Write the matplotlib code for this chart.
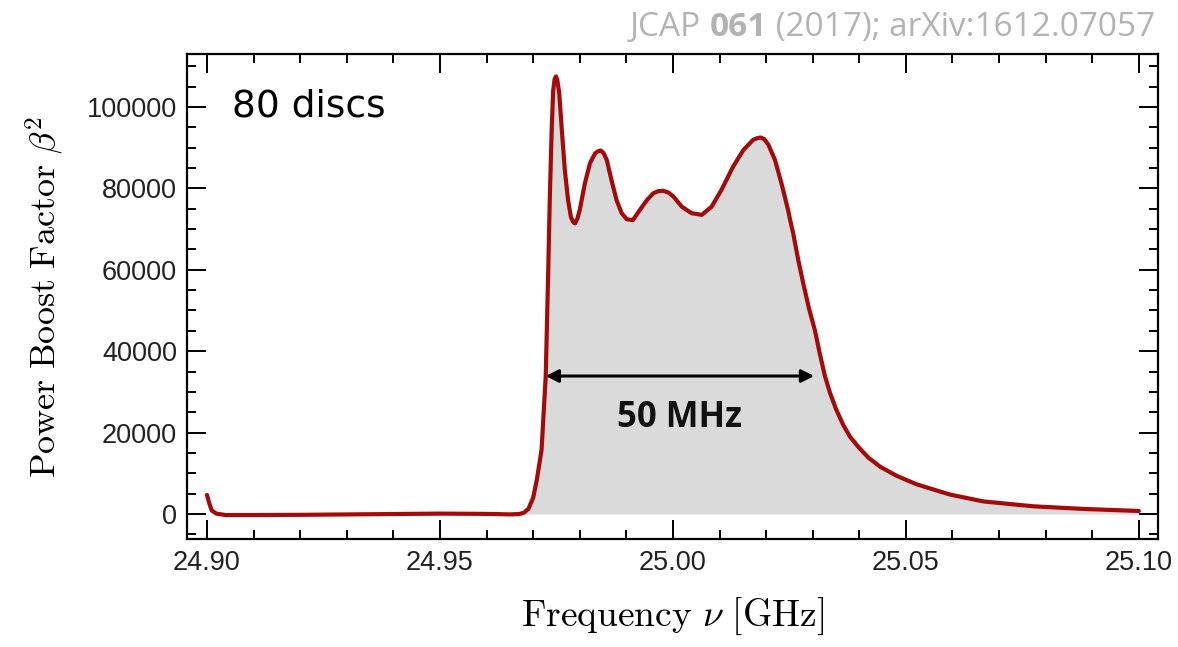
#!/usr/bin/env python3
# -*- coding: utf-8 -*-

import matplotlib as mpl

mpl.use("Agg")

import matplotlib.pyplot as plt
import numpy as np
from matplotlib.ticker import FixedLocator, FuncFormatter, MultipleLocator

# boost factor curve (GHz, beta^2)
freq_ghz = np.array([
    24.9000, 24.9005, 24.9010, 24.9020, 24.9040, 24.9100, 24.9200, 24.9300,
    24.9400, 24.9500, 24.9580, 24.9620, 24.9650, 24.9670, 24.9680, 24.9690,
    24.9700, 24.9708, 24.9718, 24.9727, 24.9732, 24.9736, 24.9740, 24.9743,
    24.9746, 24.9749, 24.9752, 24.9756, 24.9761, 24.9768, 24.9775, 24.9781,
    24.9786, 24.9790, 24.9795, 24.9800, 24.9811, 24.9822, 24.9833, 24.9839,
    24.9845, 24.9851, 24.9858, 24.9868, 24.9879, 24.9890, 24.9901, 24.9914,
    24.9929, 24.9944, 24.9958, 24.9968, 24.9979, 24.9990, 25.0001, 25.0019,
    25.0040, 25.0062, 25.0083, 25.0104, 25.0129, 25.0151, 25.0172, 25.0180,
    25.0188, 25.0196, 25.0205, 25.0219, 25.0233, 25.0240, 25.0247, 25.0252,
    25.0258, 25.0269, 25.0280, 25.0292, 25.0305, 25.0315, 25.0326, 25.0337,
    25.0350, 25.0365, 25.0380, 25.0400, 25.0420, 25.0445, 25.0480, 25.0523,
    25.0594, 25.0666, 25.0773, 25.0881, 25.1000,
])
boost = np.array([
    4700, 2600, 900, 100, -250, -250, -200, -100,
    0, 100, 50, 0, -100, 0, 300, 1300,
    4000, 8500, 15700, 33900, 58000, 78800, 95200, 104000,
    106800, 107500, 106500, 103400, 95200, 84500, 77100, 73000,
    71700, 71400, 72600, 74700, 81200, 86200, 88600, 89100,
    89300, 88700, 87000, 82100, 77100, 73900, 72400, 72200,
    74700, 77100, 78800, 79300, 79400, 79000, 78000, 75500,
    73900, 73500, 75500, 79600, 85300, 89400, 91900, 92300,
    92500, 92100, 90700, 87000, 81200, 78000, 74700, 72000,
    69000, 62400, 56500, 50500, 45000, 39500, 34000, 29800,
    25800, 22000, 19000, 16200, 13800, 11600, 9400, 7300,
    4800, 3100, 1900, 1250, 750,
], dtype=float)

band_edges = [24.9727, 25.0303]   # ends of the 50 MHz arrow
band_level = 33900
band_label = "50 MHz"
n_discs_label = "80 discs"

x_ticks = [24.90, 24.95, 25.00, 25.05, 25.10]
y_ticks = [0, 20000, 40000, 60000, 80000, 100000]

LINE_RED = "#a50a0a"
FILL_GREY = "#dadada"

plt.rcParams["mathtext.fontset"] = "cm"

fig = plt.figure(figsize=(11.78, 6.47), dpi=100)
fig.patch.set_facecolor("white")
ax = fig.add_axes([0.1587, 0.1669, 0.8243, 0.7496])

ax.fill_between(freq_ghz, 0, boost, where=freq_ghz >= 24.967, color=FILL_GREY, linewidth=0, zorder=1)
ax.plot(freq_ghz, boost, color=LINE_RED, linewidth=3.0, solid_joinstyle="round",
        solid_capstyle="round", zorder=3)

ax.annotate(
    "",
    xy=(band_edges[1], band_level),
    xytext=(band_edges[0], band_level),
    arrowprops=dict(arrowstyle="<|-|>,head_length=0.75,head_width=0.38", color="black",
                    lw=2.2, shrinkA=0, shrinkB=0, mutation_scale=10),
    zorder=4,
)
ax.text(np.mean(band_edges), 21400, band_label, ha="center", va="baseline",
        fontsize=25, fontweight="bold", family="Open Sans", color="#111111", zorder=5)
ax.text(0.046, 0.872, n_discs_label, transform=ax.transAxes, ha="left", va="baseline",
        fontsize=27, family="DejaVu Sans", color="black")

ax.set_xlim(24.8957, 25.1041)
ax.set_ylim(-6140, 113000)
ax.xaxis.set_major_locator(FixedLocator(x_ticks))
ax.xaxis.set_minor_locator(MultipleLocator(0.01))
ax.yaxis.set_major_locator(FixedLocator(y_ticks))
ax.yaxis.set_minor_locator(MultipleLocator(5000))
ax.xaxis.set_major_formatter(FuncFormatter(lambda v, _: f"{v:.2f}"))
ax.yaxis.set_major_formatter(FuncFormatter(lambda v, _: f"{v:.0f}"))

for side in ax.spines.values():
    side.set_linewidth(1.6)
    side.set_color("black")
ax.tick_params(which="both", direction="in", top=True, right=True, width=1.4, color="black")
ax.tick_params(which="major", length=14, labelsize=19.5, labelcolor="#222222")
ax.tick_params(which="minor", length=6.5)
ax.tick_params(axis="x", which="major", pad=8)
ax.tick_params(axis="y", which="major", pad=7)
for lab in ax.get_xticklabels() + ax.get_yticklabels():
    lab.set_family("Liberation Sans")

ax.set_xlabel(r"$\mathrm{Frequency}\ \nu\ [\mathrm{GHz}]$", fontsize=27, labelpad=14)
ax.set_ylabel(r"$\mathrm{Power\ Boost\ Factor}\ \beta^2$", fontsize=26, labelpad=16)

# citation in the top right corner, "061" in bold
grey = "#b3b3b3"
t_tail = fig.text(0.9805, 0.944, " (2017); arXiv:1612.07057", ha="right", va="baseline",
                  fontsize=24, family="Open Sans", color=grey)
t_vol = fig.text(0, 0, "061", fontsize=24, family="Open Sans", fontweight="bold", color=grey,
                 ha="right", va="baseline")
fig.canvas.draw()
inv = fig.transFigure.inverted()
x_tail = inv.transform((t_tail.get_window_extent().x0, 0))[0]
t_vol.set_position((x_tail, 0.944))
fig.canvas.draw()
x_vol = inv.transform((t_vol.get_window_extent().x0, 0))[0]
fig.text(x_vol, 0.944, "JCAP ", ha="right", va="baseline", fontsize=24, family="Open Sans", color=grey)

fig.savefig("out.png", dpi=100, facecolor="white")
plt.close(fig)
